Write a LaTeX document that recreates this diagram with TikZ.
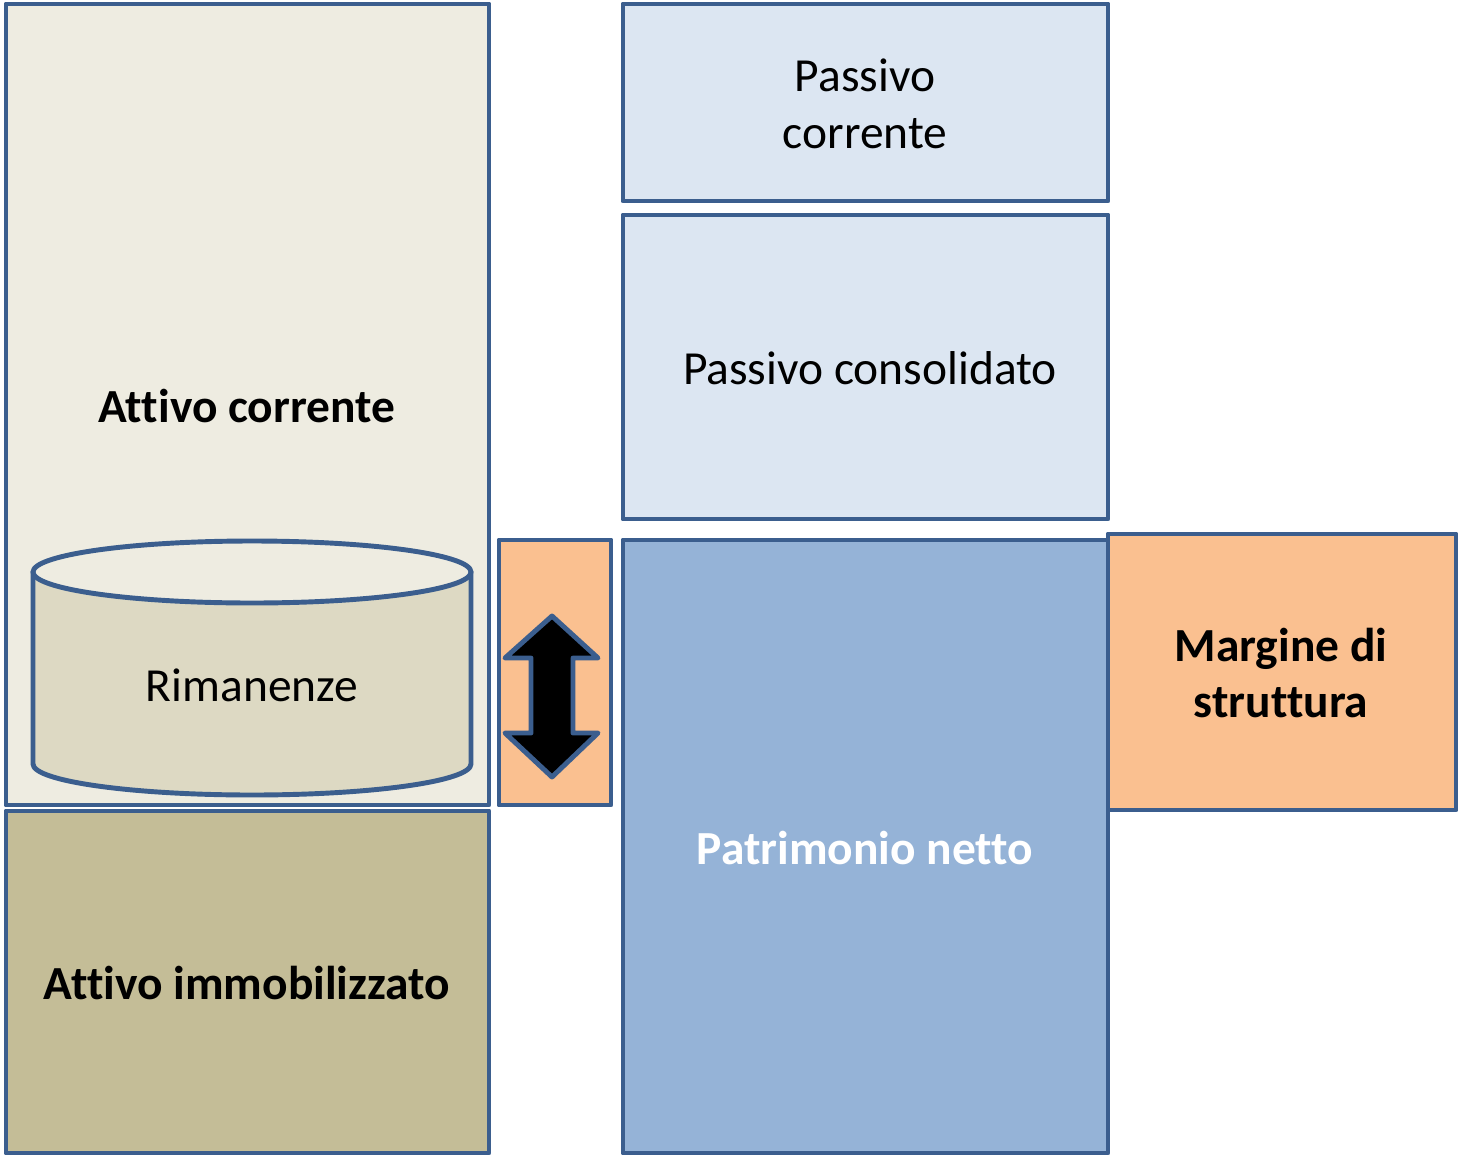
\documentclass[tikz,border=0pt]{standalone}
\usepackage{fontspec}
\setmainfont[Ligatures=NoCommon]{Carlito}
\definecolor{bordo}{HTML}{3B5E8E}
\definecolor{crema}{HTML}{EEECE1}
\definecolor{sabbia}{HTML}{DDD9C3}
\definecolor{oliva}{HTML}{C4BD97}
\definecolor{celeste}{HTML}{DCE6F2}
\definecolor{azzurro}{HTML}{95B3D7}
\definecolor{pesca}{HTML}{FAC090}
\tikzset{
  voce/.style={draw=bordo, line width=1.4pt, line join=round},
  testo/.style={align=center, font=\fontsize{13.5}{16.2}\selectfont},
  grassetto/.style={testo, font=\fontsize{13.5}{16.2}\selectfont\bfseries}
}

\begin{document}
\begin{tikzpicture}[x=0.01cm, y=0.01cm]
\useasboundingbox (0,0) rectangle (1460,1156);
% attivo
\filldraw[voce, fill=crema] (6,351) rectangle (489,1152);
\filldraw[voce, fill=oliva] (6,3) rectangle (489,345);
\filldraw[voce, fill=sabbia] (33,584) -- (33,392)
  arc[start angle=180, end angle=360, x radius=219, y radius=31] -- (471,584) -- cycle;
\filldraw[voce, fill=crema] (252,584) ellipse [x radius=219, y radius=31];
\node[grassetto] (ac) at (247,750) {Attivo corrente};
\node[testo] (rim) at (252,471) {Rimanenze};
\node[grassetto] (ai) at (247,173) {Attivo immobilizzato};
% passivo
\filldraw[voce, fill=celeste] (623,955) rectangle (1108,1152);
\filldraw[voce, fill=celeste] (623,637) rectangle (1108,941);
\filldraw[voce, fill=azzurro] (623,3) rectangle (1108,616);
\node[testo] (pc) at (865,1052) {Passivo\\corrente};
\node[testo] (pcons) at (870,788) {Passivo consolidato};
\node[grassetto, text=white] (pn) at (865,308) {Patrimonio netto};
% margine
\filldraw[voce, fill=pesca] (499,351) rectangle (611,616);
\filldraw[voce, fill=pesca] (1108,346) rectangle (1456,622);
\node[grassetto] (ms) at (1281,483) {Margine di\\struttura};
\filldraw[voce, fill=black] (552,540) -- (598,498) -- (573,498) -- (573,423)
  -- (598,423) -- (552,379) -- (505,423) -- (531,423) -- (531,498)
  -- (505,498) -- cycle;
\end{tikzpicture}
\end{document}
